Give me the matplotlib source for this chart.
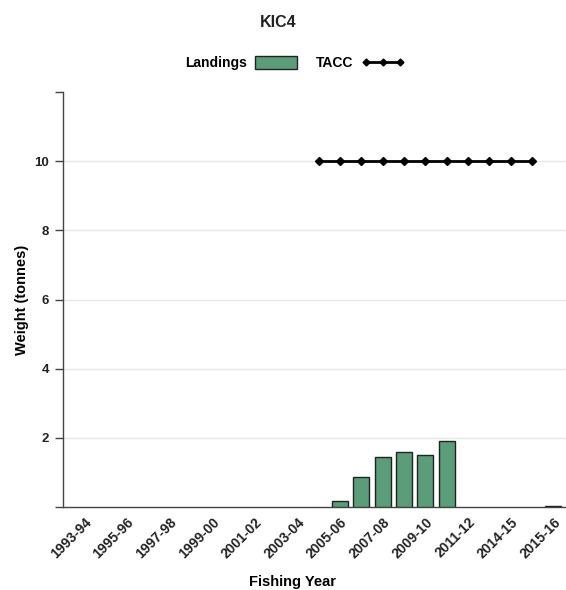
import numpy as np
import matplotlib.pyplot as plt
import matplotlib.patches as mpatches
from matplotlib.lines import Line2D

# Fishing years (one slot per year on the x axis)
years = ['1993-94', '1994-95', '1995-96', '1996-97', '1997-98', '1998-99',
         '1999-00', '2000-01', '2001-02', '2002-03', '2003-04', '2004-05',
         '2005-06', '2006-07', '2007-08', '2008-09', '2009-10', '2010-11',
         '2011-12', '2012-13', '2013-14', '2014-15', '2015-16']
# labels as printed under every second slot
tick_labels = ['1993-94', '1995-96', '1997-98', '1999-00', '2001-02', '2003-04',
               '2005-06', '2007-08', '2009-10', '2011-12', '2014-15', '2015-16']

# None = no landings reported
landings = [None] * 12 + [0.17, 0.88, 1.45, 1.59, 1.50, 1.91,
                          None, None, None, None, 0.03]
tacc_years = years[11:22]
tacc = [10] * len(tacc_years)

plt.rcParams['font.family'] = ['Liberation Sans', 'DejaVu Sans']
plt.rcParams['font.weight'] = 'bold'

fig = plt.figure(figsize=(5.66, 5.90), dpi=100)
ax = fig.add_axes([0.111, 0.1407, 0.889, 0.7033])

x = np.arange(len(years))
heights = np.array([np.nan if v is None else v for v in landings])
ax.bar(x, heights, width=0.75, color='#5b9c79', edgecolor='#222222',
       linewidth=1.0, zorder=3)
tx = [years.index(y) for y in tacc_years]
ax.plot(tx, tacc, color='black', lw=2, marker='D', ms=4, zorder=4)

ax.set_xlim(-1, 22.6)
ax.set_ylim(0, 12)
ax.set_yticks([0, 2, 4, 6, 8, 10, 12])
ax.set_yticklabels(['', '2', '4', '6', '8', '10', ''])
for yv in [2, 4, 6, 8, 10]:
    ax.axhline(yv, color='#e6e6e6', lw=1, zorder=1)

ax.set_xticks(list(range(0, len(years), 2)))
ax.set_xticklabels(tick_labels, rotation=45, ha='right', rotation_mode='anchor',
                   fontsize=10, fontweight='bold', color='#222222')
ax.tick_params(axis='x', length=0, pad=6)
ax.tick_params(axis='y', length=6, width=1, color='#444444', labelsize=9.5,
               labelcolor='#222222', pad=4)

for s in ['top', 'right']:
    ax.spines[s].set_visible(False)
for s in ['left', 'bottom']:
    ax.spines[s].set_color('#444444')
    ax.spines[s].set_linewidth(1)

ax.set_ylabel('Weight (tonnes)', fontsize=10.5, fontweight='bold')
ax.yaxis.set_label_coords(-0.068, 0.5)
ax.set_xlabel('Fishing Year', fontsize=10.5, fontweight='bold')
ax.xaxis.set_label_coords(0.457, -0.163)

fig.text(0.492, 0.962, 'KIC4', ha='center', va='center', fontsize=11.5,
         fontweight='bold', color='#222222')

handles = [mpatches.Patch(facecolor='#5b9c79', edgecolor='#222222', lw=1),
           Line2D([0], [0], color='black', lw=2, marker='D', ms=3.5)]
fig.legend(handles, ['Landings', 'TACC'], loc='center', bbox_to_anchor=(0.52, 0.893),
           ncol=2, frameon=False, markerfirst=False, numpoints=3,
           handlelength=3.0, handleheight=1.1, columnspacing=1.4, handletextpad=0.6,
           prop={'weight': 'bold', 'size': 10})

fig.savefig('out.png', dpi=100)
